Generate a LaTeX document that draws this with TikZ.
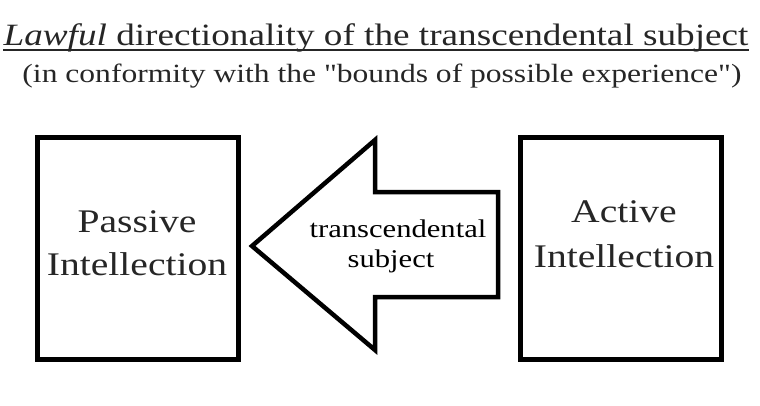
\documentclass[tikz,border=0pt]{standalone}
\usepackage{fontspec}
\setmainfont[FakeStretch=1.2]{Liberation Serif}
\newfontfamily\qf[FakeStretch=1.2]{Liberation Serif}
\newcommand{\sq}{{\qf\symbol{34}}}
\definecolor{ink}{HTML}{262626}
\tikzset{
  boxst/.style={draw=black, line width=5pt, minimum width=201pt, minimum height=222pt, inner sep=0pt},
  lbl/.style={text=ink, inner sep=0pt, anchor=base, font=\fontsize{33}{40}\selectfont},
  small/.style={text=black, inner sep=0pt, anchor=base, font=\fontsize{25.5}{30}\selectfont},
  ttl/.style={text=ink, inner sep=0pt, anchor=base, font=\fontsize{31}{38}\selectfont},
  arrowst/.style={draw=black, line width=4.5pt, line join=miter}
}
\begin{document}
\begin{tikzpicture}[x=1pt,y=-1pt]
\useasboundingbox[fill=white] (0,0) rectangle (760,405);
% title
\node[ttl] (title) at (376,45) {\textit{Lawful} directionality of the transcendental subject};
\draw[ink, line width=2pt] ([yshift=-5pt]title.base west) -- ([yshift=-5pt]title.base east);
\node[ttl, font=\fontsize{26.3}{32}\selectfont] (sub) at (382,82) {(in conformity with the \sq bounds of possible experience\sq)};
% boxes
\node[boxst] (passive) at (137.5,248.5) {};
\node[boxst] (active) at (620.5,248) {};
\node[lbl] (p1) at (137,232) {Passive};
\node[lbl] (p2) at (137,275) {Intellection};
\node[lbl] (a1) at (624,222) {Active};
\node[lbl] (a2) at (624,267) {Intellection};
% arrow
\coordinate (tip) at (252,246);
\coordinate (ht) at (375,140);
\coordinate (st) at (375,192);
\coordinate (sr) at (498,192);
\coordinate (sbr) at (498,297);
\coordinate (sb) at (375,297);
\coordinate (hb) at (375,350);
\draw[arrowst] (tip) -- (ht) -- (st) -- (sr) -- (sbr) -- (sb) -- (hb) -- cycle;
\node[small] (t1) at (398,237) {transcendental};
\node[small] (t2) at (391,267) {subject};
\end{tikzpicture}
\end{document}
